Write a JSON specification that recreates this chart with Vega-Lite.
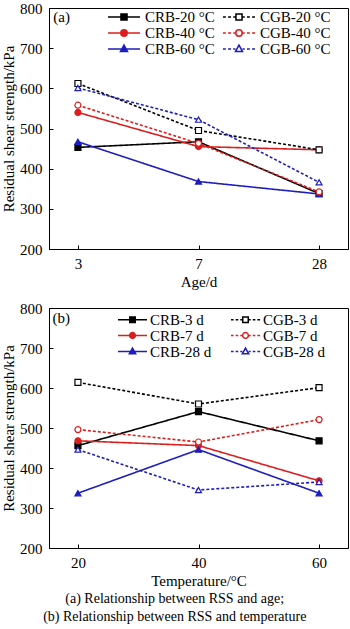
{
  "$schema": "https://vega.github.io/schema/vega-lite/v6.json",
  "padding": {"left": 1, "top": 0, "right": 1, "bottom": 2},
  "background": "white",
  "config": {
    "font": "Liberation Serif",
    "view": {"stroke": "black", "strokeWidth": 1},
    "axis": {
      "domainColor": "black", "tickColor": "black", "labelColor": "black", "titleColor": "black",
      "labelFont": "Liberation Serif", "titleFont": "Liberation Serif",
      "labelFontSize": 15, "titleFontSize": 15, "titleFontWeight": "normal",
      "grid": false, "tickSize": -4, "labelPadding": 11, "titlePadding": 3, "domainWidth": 1
    },
    "legend": {
      "labelFont": "Liberation Serif", "labelFontSize": 15, "labelColor": "black",
      "labelLimit": 0, "symbolStrokeWidth": 1.5, "padding": 0, "rowPadding": 0, "symbolOpacity": 1
    },
    "title": {"font": "Liberation Serif", "color": "black", "fontWeight": "normal"}
  },
  "datasets": {
    "ageData": [
      {"series": "CRB-20 °C", "age": 3, "rss": 453},
      {"series": "CRB-20 °C", "age": 7, "rss": 467},
      {"series": "CRB-20 °C", "age": 28, "rss": 338},
      {"series": "CRB-40 °C", "age": 3, "rss": 540},
      {"series": "CRB-40 °C", "age": 7, "rss": 455},
      {"series": "CRB-40 °C", "age": 28, "rss": 447},
      {"series": "CRB-60 °C", "age": 3, "rss": 467},
      {"series": "CRB-60 °C", "age": 7, "rss": 368},
      {"series": "CRB-60 °C", "age": 28, "rss": 337},
      {"series": "CGB-20 °C", "age": 3, "rss": 612},
      {"series": "CGB-20 °C", "age": 7, "rss": 495},
      {"series": "CGB-20 °C", "age": 28, "rss": 447},
      {"series": "CGB-40 °C", "age": 3, "rss": 558},
      {"series": "CGB-40 °C", "age": 7, "rss": 463},
      {"series": "CGB-40 °C", "age": 28, "rss": 342},
      {"series": "CGB-60 °C", "age": 3, "rss": 601},
      {"series": "CGB-60 °C", "age": 7, "rss": 522},
      {"series": "CGB-60 °C", "age": 28, "rss": 366}
    ],
    "tempData": [
      {"series": "CRB-3 d", "temp": 20, "rss": 456},
      {"series": "CRB-3 d", "temp": 40, "rss": 541},
      {"series": "CRB-3 d", "temp": 60, "rss": 468},
      {"series": "CRB-7 d", "temp": 20, "rss": 468},
      {"series": "CRB-7 d", "temp": 40, "rss": 456},
      {"series": "CRB-7 d", "temp": 60, "rss": 368},
      {"series": "CRB-28 d", "temp": 20, "rss": 337},
      {"series": "CRB-28 d", "temp": 40, "rss": 446},
      {"series": "CRB-28 d", "temp": 60, "rss": 337},
      {"series": "CGB-3 d", "temp": 20, "rss": 614},
      {"series": "CGB-3 d", "temp": 40, "rss": 560},
      {"series": "CGB-3 d", "temp": 60, "rss": 601},
      {"series": "CGB-7 d", "temp": 20, "rss": 496},
      {"series": "CGB-7 d", "temp": 40, "rss": 465},
      {"series": "CGB-7 d", "temp": 60, "rss": 521},
      {"series": "CGB-28 d", "temp": 20, "rss": 446},
      {"series": "CGB-28 d", "temp": 40, "rss": 345},
      {"series": "CGB-28 d", "temp": 60, "rss": 365}
    ]
  },
  "title": {
    "text": ["(a) Relationship between RSS and age;", "(b) Relationship between RSS and temperature"],
    "orient": "bottom", "anchor": "middle", "fontSize": 14, "lineHeight": 18, "offset": 3, "fontWeight": "normal"
  },
  "spacing": 10,
  "resolve": {
    "scale": {"stroke": "independent", "fill": "independent", "shape": "independent", "strokeDash": "independent"},
    "legend": {"stroke": "independent", "fill": "independent", "shape": "independent", "strokeDash": "independent"}
  },
  "vconcat": [
    {
      "width": 299,
      "height": 241,
      "resolve": {
        "scale": {"stroke": "independent", "fill": "independent", "shape": "independent", "strokeDash": "independent"},
        "legend": {"stroke": "independent", "fill": "independent", "shape": "independent", "strokeDash": "independent"}
      },
      "encoding": {
        "x": {"field": "age", "type": "ordinal", "scale": {"type": "point", "padding": 0.24, "domain": [3, 7, 28]}, "axis": {"labelAngle": 0, "title": "Age/d"}},
        "y": {"field": "rss", "type": "quantitative", "scale": {"domain": [200, 800], "nice": false, "zero": false}, "axis": {"values": [200, 300, 400, 500, 600, 700, 800], "title": "Residual shear strength/kPa"}}
      },
      "layer": [
        {
          "data": {"name": "ageData"},
          "mark": {"type": "line", "strokeWidth": 1.6},
          "encoding": {
            "stroke": {"field": "series", "type": "nominal", "legend": null,
              "scale": {"domain": ["CRB-20 °C", "CGB-20 °C", "CRB-40 °C", "CGB-40 °C", "CRB-60 °C", "CGB-60 °C"], "range": ["#000000", "#000000", "#dc1e1e", "#dc1e1e", "#1e1ebe", "#1e1ebe"]}},
            "strokeDash": {"field": "series", "type": "nominal", "legend": null,
              "scale": {"domain": ["CRB-20 °C", "CGB-20 °C", "CRB-40 °C", "CGB-40 °C", "CRB-60 °C", "CGB-60 °C"], "range": [[1, 0], [3, 2], [1, 0], [3, 2], [1, 0], [3, 2]]}}
          }
        },
        {
          "data": {"name": "ageData"},
          "mark": {"type": "point", "opacity": 1, "strokeWidth": 1.2, "size": 36},
          "encoding": {
            "stroke": {"field": "series", "type": "nominal", "legend": null,
              "scale": {"domain": ["CRB-20 °C", "CGB-20 °C", "CRB-40 °C", "CGB-40 °C", "CRB-60 °C", "CGB-60 °C"], "range": ["#000000", "#000000", "#dc1e1e", "#dc1e1e", "#1e1ebe", "#1e1ebe"]}},
            "shape": {"field": "series", "type": "nominal", "legend": null,
              "scale": {"domain": ["CRB-20 °C", "CGB-20 °C", "CRB-40 °C", "CGB-40 °C", "CRB-60 °C", "CGB-60 °C"], "range": ["square", "square", "circle", "circle", "triangle-up", "triangle-up"]}},
            "fill": {"field": "series", "type": "nominal", "legend": null,
              "scale": {"domain": ["CRB-20 °C", "CGB-20 °C", "CRB-40 °C", "CGB-40 °C", "CRB-60 °C", "CGB-60 °C"], "range": ["#000000", "#ffffff", "#dc1e1e", "#ffffff", "#1e1ebe", "#ffffff"]}}
          }
        },
        {
          "data": {"name": "ageData"},
          "transform": [{"filter": "false"}],
          "mark": {"type": "point", "opacity": 1, "strokeWidth": 1.5},
          "encoding": {
            "stroke": {"field": "series", "type": "nominal",
              "scale": {"domain": ["CRB-20 °C", "CGB-20 °C", "CRB-40 °C", "CGB-40 °C", "CRB-60 °C", "CGB-60 °C"], "range": ["#000000", "#000000", "#dc1e1e", "#dc1e1e", "#1e1ebe", "#1e1ebe"]},
              "legend": {"title": null, "orient": "none", "direction": "horizontal", "legendX": 58, "legendY": 1, "columns": 2, "columnPadding": 7, "clipHeight": 16, "symbolSize": 1024, "labelOffset": 4}},
            "fill": {"field": "series", "type": "nominal",
              "scale": {"domain": ["CRB-20 °C", "CGB-20 °C", "CRB-40 °C", "CGB-40 °C", "CRB-60 °C", "CGB-60 °C"], "range": ["#000000", "#ffffff", "#dc1e1e", "#ffffff", "#1e1ebe", "#ffffff"]},
              "legend": {"title": null, "orient": "none", "direction": "horizontal", "legendX": 58, "legendY": 1, "columns": 2, "columnPadding": 7, "clipHeight": 16, "symbolSize": 1024, "labelOffset": 4}},
            "shape": {"field": "series", "type": "nominal",
              "scale": {"domain": ["CRB-20 °C", "CGB-20 °C", "CRB-40 °C", "CGB-40 °C", "CRB-60 °C", "CGB-60 °C"], "range": [
                "M-1,0L1,0M-0.19,-0.19L0.19,-0.19L0.19,0.19L-0.19,0.19Z",
                "M-1,0L-0.82,0M-0.68,0L-0.5,0M-0.36,0L-0.22,0M0.22,0L0.36,0M0.5,0L0.68,0M0.82,0L1,0M-0.19,-0.19L0.19,-0.19L0.19,0.19L-0.19,0.19Z",
                "M-1,0L1,0M0.2,0A0.2,0.2 0 1,1 -0.2,0A0.2,0.2 0 1,1 0.2,0Z",
                "M-1,0L-0.82,0M-0.68,0L-0.5,0M-0.36,0L-0.22,0M0.22,0L0.36,0M0.5,0L0.68,0M0.82,0L1,0M0.2,0A0.2,0.2 0 1,1 -0.2,0A0.2,0.2 0 1,1 0.2,0Z",
                "M-1,0L1,0M0,-0.24L0.22,0.16L-0.22,0.16Z",
                "M-1,0L-0.82,0M-0.68,0L-0.5,0M-0.36,0L-0.22,0M0.22,0L0.36,0M0.5,0L0.68,0M0.82,0L1,0M0,-0.24L0.22,0.16L-0.22,0.16Z"]},
              "legend": {"title": null, "orient": "none", "direction": "horizontal", "legendX": 58, "legendY": 1, "columns": 2, "columnPadding": 7, "clipHeight": 16, "symbolSize": 1024, "labelOffset": 4}}
          }
        },
        {
          "data": {"name": "ageData"},
          "transform": [{"filter": "datum.series == 'CRB-20 °C' && datum.age == 3"}],
          "mark": {"type": "text", "align": "right", "baseline": "middle", "dx": -8, "fontSize": 15, "font": "Liberation Serif", "color": "black"},
          "encoding": {"y": {"datum": 777, "type": "quantitative"}, "text": {"value": "(a)"}}
        }
      ]
    },
    {
      "width": 299,
      "height": 240,
      "resolve": {
        "scale": {"stroke": "independent", "fill": "independent", "shape": "independent", "strokeDash": "independent"},
        "legend": {"stroke": "independent", "fill": "independent", "shape": "independent", "strokeDash": "independent"}
      },
      "encoding": {
        "x": {"field": "temp", "type": "ordinal", "scale": {"type": "point", "padding": 0.24, "domain": [20, 40, 60]}, "axis": {"labelAngle": 0, "title": "Temperature/°C"}},
        "y": {"field": "rss", "type": "quantitative", "scale": {"domain": [200, 800], "nice": false, "zero": false}, "axis": {"values": [200, 300, 400, 500, 600, 700, 800], "title": "Residual shear strength/kPa"}}
      },
      "layer": [
        {
          "data": {"name": "tempData"},
          "mark": {"type": "line", "strokeWidth": 1.6},
          "encoding": {
            "stroke": {"field": "series", "type": "nominal", "legend": null,
              "scale": {"domain": ["CRB-3 d", "CGB-3 d", "CRB-7 d", "CGB-7 d", "CRB-28 d", "CGB-28 d"], "range": ["#000000", "#000000", "#dc1e1e", "#dc1e1e", "#1e1ebe", "#1e1ebe"]}},
            "strokeDash": {"field": "series", "type": "nominal", "legend": null,
              "scale": {"domain": ["CRB-3 d", "CGB-3 d", "CRB-7 d", "CGB-7 d", "CRB-28 d", "CGB-28 d"], "range": [[1, 0], [3, 2], [1, 0], [3, 2], [1, 0], [3, 2]]}}
          }
        },
        {
          "data": {"name": "tempData"},
          "mark": {"type": "point", "opacity": 1, "strokeWidth": 1.2, "size": 36},
          "encoding": {
            "stroke": {"field": "series", "type": "nominal", "legend": null,
              "scale": {"domain": ["CRB-3 d", "CGB-3 d", "CRB-7 d", "CGB-7 d", "CRB-28 d", "CGB-28 d"], "range": ["#000000", "#000000", "#dc1e1e", "#dc1e1e", "#1e1ebe", "#1e1ebe"]}},
            "shape": {"field": "series", "type": "nominal", "legend": null,
              "scale": {"domain": ["CRB-3 d", "CGB-3 d", "CRB-7 d", "CGB-7 d", "CRB-28 d", "CGB-28 d"], "range": ["square", "square", "circle", "circle", "triangle-up", "triangle-up"]}},
            "fill": {"field": "series", "type": "nominal", "legend": null,
              "scale": {"domain": ["CRB-3 d", "CGB-3 d", "CRB-7 d", "CGB-7 d", "CRB-28 d", "CGB-28 d"], "range": ["#000000", "#ffffff", "#dc1e1e", "#ffffff", "#1e1ebe", "#ffffff"]}}
          }
        },
        {
          "data": {"name": "tempData"},
          "transform": [{"filter": "false"}],
          "mark": {"type": "point", "opacity": 1, "strokeWidth": 1.5},
          "encoding": {
            "stroke": {"field": "series", "type": "nominal",
              "scale": {"domain": ["CRB-3 d", "CGB-3 d", "CRB-7 d", "CGB-7 d", "CRB-28 d", "CGB-28 d"], "range": ["#000000", "#000000", "#dc1e1e", "#dc1e1e", "#1e1ebe", "#1e1ebe"]},
              "legend": {"title": null, "orient": "none", "direction": "horizontal", "legendX": 68, "legendY": 4, "columns": 2, "columnPadding": 18, "clipHeight": 15, "symbolSize": 841, "labelOffset": 2}},
            "fill": {"field": "series", "type": "nominal",
              "scale": {"domain": ["CRB-3 d", "CGB-3 d", "CRB-7 d", "CGB-7 d", "CRB-28 d", "CGB-28 d"], "range": ["#000000", "#ffffff", "#dc1e1e", "#ffffff", "#1e1ebe", "#ffffff"]},
              "legend": {"title": null, "orient": "none", "direction": "horizontal", "legendX": 68, "legendY": 4, "columns": 2, "columnPadding": 18, "clipHeight": 15, "symbolSize": 841, "labelOffset": 2}},
            "shape": {"field": "series", "type": "nominal",
              "scale": {"domain": ["CRB-3 d", "CGB-3 d", "CRB-7 d", "CGB-7 d", "CRB-28 d", "CGB-28 d"], "range": [
                "M-1,0L1,0M-0.19,-0.19L0.19,-0.19L0.19,0.19L-0.19,0.19Z",
                "M-1,0L-0.82,0M-0.68,0L-0.5,0M-0.36,0L-0.22,0M0.22,0L0.36,0M0.5,0L0.68,0M0.82,0L1,0M-0.19,-0.19L0.19,-0.19L0.19,0.19L-0.19,0.19Z",
                "M-1,0L1,0M0.2,0A0.2,0.2 0 1,1 -0.2,0A0.2,0.2 0 1,1 0.2,0Z",
                "M-1,0L-0.82,0M-0.68,0L-0.5,0M-0.36,0L-0.22,0M0.22,0L0.36,0M0.5,0L0.68,0M0.82,0L1,0M0.2,0A0.2,0.2 0 1,1 -0.2,0A0.2,0.2 0 1,1 0.2,0Z",
                "M-1,0L1,0M0,-0.24L0.22,0.16L-0.22,0.16Z",
                "M-1,0L-0.82,0M-0.68,0L-0.5,0M-0.36,0L-0.22,0M0.22,0L0.36,0M0.5,0L0.68,0M0.82,0L1,0M0,-0.24L0.22,0.16L-0.22,0.16Z"]},
              "legend": {"title": null, "orient": "none", "direction": "horizontal", "legendX": 68, "legendY": 4, "columns": 2, "columnPadding": 18, "clipHeight": 15, "symbolSize": 841, "labelOffset": 2}}
          }
        },
        {
          "data": {"name": "tempData"},
          "transform": [{"filter": "datum.series == 'CRB-3 d' && datum.temp == 20"}],
          "mark": {"type": "text", "align": "right", "baseline": "middle", "dx": -8, "fontSize": 15, "font": "Liberation Serif", "color": "black"},
          "encoding": {"y": {"datum": 775, "type": "quantitative"}, "text": {"value": "(b)"}}
        }
      ]
    }
  ]
}
